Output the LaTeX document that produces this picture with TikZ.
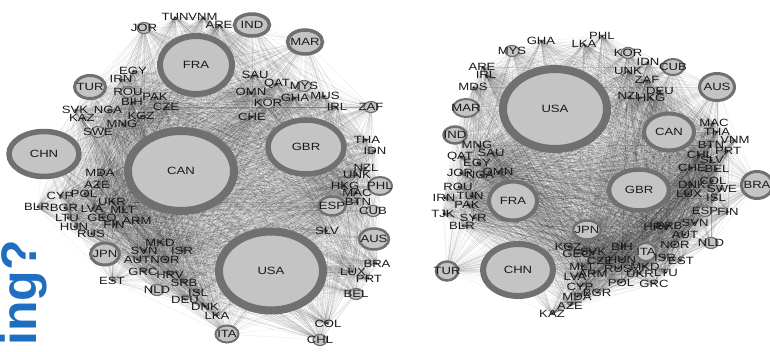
\documentclass[tikz,border=0pt]{standalone}
\usepackage{fontspec}
\usepackage{tikz}
\usetikzlibrary{shapes.geometric,backgrounds}
\newfontfamily\lblfont{Liberation Sans}[FakeStretch=1.25]
\newfontfamily\headfont{Liberation Sans}
\definecolor{ringgray}{HTML}{707070}
\definecolor{discgray}{HTML}{C4C4C4}
\definecolor{headblue}{HTML}{1F6EC1}
\tikzset{
  lbl/.style={font=\lblfont\fontsize{10.5}{10.5}\selectfont, text=black!90, inner sep=0pt},
  hub/.style n args={4}{ellipse, draw=ringgray, fill=discgray, inner sep=0pt,
    minimum width=#1, minimum height=#2, line width=#3, label={[lbl]center:#4}},
  sdot/.style={ellipse, draw=ringgray, fill=discgray, inner sep=0pt, line width=1.2pt,
    minimum width=14pt, minimum height=11pt, label={[lbl]center:#1}},
  mesh/.style={line width=0.2pt, draw=black, draw opacity=0.13}
}
\def\lnet{FRA,CAN,USA,GBR,CHN,TUR,IND,MAR,JPN,ESP,AUS,PHL,ITA,JOR,ROU,SWE,MYS,KOR,ZAF,CUB,BEL,CHL,NLD,TUN,VNM,ARE,EGY,IRN,PAK,BIH,CZE,SVK,NGA,KGZ,KAZ,MNG,MDA,SAU,QAT,OMN,GHA,MUS,IRL,CHE,THA,IDN,NZL,UNK,HKG,MAC,BTN,SLV,BRA,LUX,PRT,COL,DNK,LKA,AZE,CYP,POL,UKR,BLR,BGR,LVA,MLT,LTU,GEO,ARM,HUN,FIN,RUS,MKD,SVN,ISR,AUT,NOR,GRC,HRV,EST,SRB,ISL,DEU}
\def\rnet{USA,CAN,GBR,FRA,CHN,AUS,BRA,JPN,TUR,IND,MAR,ITA,CUB,MYS,KOR,NLD,ESP,GHA,LKA,PHL,ARE,IRL,MDS,MNG,QAT,SAU,EGY,JOR,NGA,OMN,ROU,IRN,TUN,PAK,TJK,SYR,BLR,KAZ,AZE,MDA,CYP,LVA,MLT,GEO,SVK,KGZ,CZE,ARM,HUN,RUS,MKD,UKR,LTU,POL,GRC,BGR,BIH,ISR,EST,NOR,AUT,HRV,SRB,SVN,FIN,LUX,ISL,DNK,COL,SWE,MAC,THA,VNM,BTN,PRT,CHL,SLV,CHE,BEL,IDN,UNK,ZAF,DEU,NZL,HKG}
\begin{document}
\begin{tikzpicture}[x=1pt,y=-1pt]
\useasboundingbox (0,0) rectangle (770,352);
% left network: hubs
\node[hub={72pt}{58pt}{6pt}{FRA}] (lFRA) at (196,65) {};
\node[hub={106pt}{80pt}{8pt}{CAN}] (lCAN) at (181,171) {};
\node[hub={104pt}{79pt}{8pt}{USA}] (lUSA) at (271,271) {};
\node[hub={76pt}{54pt}{5.5pt}{GBR}] (lGBR) at (306,147) {};
\node[hub={70pt}{45pt}{5.5pt}{CHN}] (lCHN) at (44,154) {};
\node[hub={31pt}{23pt}{3pt}{TUR}] (lTUR) at (90,87) {};
\node[hub={35pt}{22pt}{3.5pt}{IND}] (lIND) at (252,25) {};
\node[hub={35pt}{24pt}{3.5pt}{MAR}] (lMAR) at (305,42) {};
\node[hub={29pt}{22pt}{3pt}{JPN}] (lJPN) at (105,254) {};
\node[hub={27pt}{19pt}{2.5pt}{ESP}] (lESP) at (332,206) {};
\node[hub={30pt}{21pt}{2.5pt}{AUS}] (lAUS) at (374,239) {};
\node[hub={24pt}{18pt}{2pt}{PHL}] (lPHL) at (380,186) {};
\node[hub={23pt}{17pt}{2pt}{ITA}] (lITA) at (227,334) {};
% left network: small dots
\node[sdot=JOR] (lJOR) at (144,28) {};
\node[sdot=ROU] (lROU) at (128,92) {};
\node[sdot=SWE] (lSWE) at (98,132) {};
\node[sdot=MYS] (lMYS) at (304,86) {};
\node[sdot=KOR] (lKOR) at (268,103) {};
\node[sdot=ZAF] (lZAF) at (371,107) {};
\node[sdot=CUB] (lCUB) at (373,211) {};
\node[sdot=BEL] (lBEL) at (356,294) {};
\node[sdot=CHL] (lCHL) at (320,340) {};
\node[sdot=NLD] (lNLD) at (157,290) {};
% left network: labels
\foreach \n/\x/\y in {TUN/175/17,VNM/203/17,ARE/219/25,EGY/133/71,IRN/121/79,PAK/155/97,
  BIH/132/102,CZE/166/107,SVK/75/110,NGA/108/110,KGZ/141/116,KAZ/82/118,MNG/122/124,
  MDA/100/173,SAU/255/75,QAT/277/84,OMN/251/92,GHA/295/98,MUS/325/96,IRL/337/107,
  CHE/252/117,THA/367/140,IDN/375/151,NZL/366/168,UNK/357/175,HKG/345/186,MAC/357/193,
  BTN/358/202,SLV/327/231,BRA/377/264,LUX/353/272,PRT/369/279,COL/328/324,DNK/205/307,
  LKA/217/316,AZE/97/185,CYP/60/196,POL/84/194,UKR/112/202,BLR/37/207,BGR/64/208,
  LVA/92/209,MLT/123/210,LTU/67/218,GEO/102/218,ARM/137/221,HUN/74/227,FIN/114/225,
  RUS/91/234,MKD/160/243,SVN/144/251,ISR/182/251,AUT/137/260,NOR/165/260,GRC/143/272,
  HRV/170/275,EST/112/281,SRB/184/283,ISL/198/293,DEU/185/300}
  \node[lbl] (l\n) at (\x,\y) {\n};
% right network: hubs
\node[hub={104pt}{80pt}{8pt}{USA}] (rUSA) at (555,109) {};
\node[hub={50pt}{37pt}{4pt}{CAN}] (rCAN) at (669,132) {};
\node[hub={60pt}{41pt}{4.5pt}{GBR}] (rGBR) at (639,190) {};
\node[hub={48pt}{39pt}{4pt}{FRA}] (rFRA) at (513,201) {};
\node[hub={70pt}{52pt}{6pt}{CHN}] (rCHN) at (518,270) {};
\node[hub={35pt}{27pt}{3pt}{AUS}] (rAUS) at (717,87) {};
\node[hub={31pt}{27pt}{3pt}{BRA}] (rBRA) at (757,185) {};
\node[hub={28pt}{19pt}{2.5pt}{JPN}] (rJPN) at (587,230) {};
\node[hub={22pt}{19pt}{2.5pt}{TUR}] (rTUR) at (447,271) {};
\node[hub={23pt}{17pt}{2.5pt}{IND}] (rIND) at (455,135) {};
\node[hub={26pt}{18pt}{2pt}{MAR}] (rMAR) at (466,108) {};
\node[hub={20pt}{18pt}{2pt}{ITA}] (rITA) at (646,252) {};
\node[hub={22pt}{16pt}{2pt}{CUB}] (rCUB) at (673,67) {};
% right network: small dots
\node[sdot=MYS] (rMYS) at (512,51) {};
\node[sdot=KOR] (rKOR) at (628,53) {};
\node[sdot=NLD] (rNLD) at (711,243) {};
\node[sdot=ESP] (rESP) at (705,211) {};
% right network: labels
\foreach \n/\x/\y in {GHA/541/41,LKA/584/44,PHL/602/36,ARE/482/67,IRL/486/75,MDS/473/87,
  MNG/477/145,QAT/460/157,SAU/491/153,EGY/477/163,JOR/460/173,NGA/480/175,OMN/498/172,
  ROU/458/187,IRN/444/198,TUN/470/196,PAK/467/205,TJK/443/214,SYR/473/218,BLR/462/226,
  KAZ/552/314,AZE/570/306,MDA/577/297,CYP/580/287,LVA/575/277,MLT/582/267,GEO/577/254,
  SVK/593/252,KGZ/568/247,CZE/600/261,ARM/593/274,HUN/622/260,RUS/618/269,MKD/645/267,
  UKR/640/274,LTU/666/273,POL/621/283,GRC/654/284,BGR/597/293,BIH/622/247,ISR/665/258,
  EST/681/261,NOR/675/245,AUT/685/235,HRV/657/227,SRB/669/226,SVN/695/223,FIN/728/212,
  LUX/689/194,ISL/716/198,DNK/692/185,COL/713/181,SWE/722/189,MAC/714/123,THA/717/132,
  VNM/735/140,BTN/711/145,PRT/728/151,CHL/700/155,SLV/712/160,CHE/692/168,BEL/717/169,
  IDN/648/62,UNK/628/71,ZAF/647/80,DEU/660/91,NZL/630/96,HKG/651/98}
  \node[lbl] (r\n) at (\x,\y) {\n};
% trade links
\begin{scope}[on background layer]
\foreach \a [count=\i] in \lnet {
  \foreach \b [count=\j] in \lnet {
    \ifnum\i<\j \draw[mesh] (l\a.center) -- (l\b.center); \fi
  }
}
\foreach \a [count=\i] in \rnet {
  \foreach \b [count=\j] in \rnet {
    \ifnum\i<\j \draw[mesh] (r\a.center) -- (r\b.center); \fi
  }
}
\end{scope}
% cut title
\node[rotate=90, anchor=base east, inner sep=0pt, text=headblue,
  font=\headfont\bfseries\fontsize{50}{50}\selectfont] (title) at (36,240) {ing?};
\end{tikzpicture}
\end{document}
